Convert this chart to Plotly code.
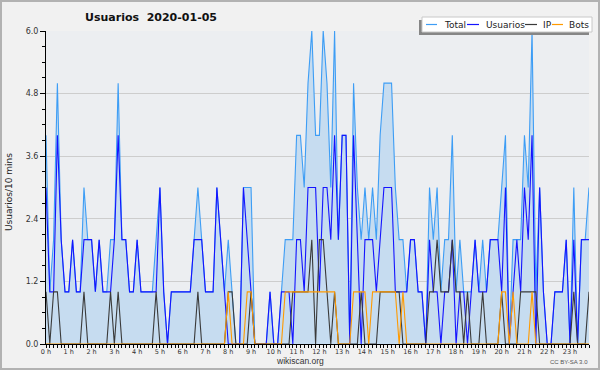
import plotly.graph_objects as go

# ---- data (10-minute slots, 2020-01-05) ----
total = [4,1,2,5,2,1,1,2,1,1,3,2,2,1,2,1,1,2,2,5,2,2,1,1,
         2,1,1,1,1,2,3,1,0,1,1,1,1,1,1,2,3,2,1,1,1,3,2,1,
         2,1,0,0,3,3,3,0,0,0,0,1,0,0,1,2,2,2,4,4,3,5,6,4,
         4,6,5,3,6,2,4,4,0,5,3,2,3,2,3,2,4,5,5,5,3,2,2,1,
         2,2,1,1,0,3,2,3,1,2,2,4,1,2,1,1,1,2,1,2,1,2,2,2,
         3,4,0,2,2,2,4,3,6,1,3,1,0,0,1,1,1,2,0,3,0,2,2,3]
usuarios = [3,1,1,4,2,1,1,2,1,1,2,2,2,1,2,1,1,1,2,4,2,2,1,1,
            2,1,1,1,1,1,3,1,0,1,1,1,1,1,1,2,2,2,1,1,1,3,2,1,
            0,0,0,0,3,2,1,0,0,0,0,1,0,0,1,1,1,0,2,2,1,3,3,3,
            1,3,3,2,4,2,4,4,0,4,2,0,2,2,2,1,2,3,3,3,1,1,1,1,
            2,2,1,1,0,2,1,1,0,1,1,2,0,1,1,0,1,2,1,1,1,2,2,2,
            1,3,0,1,2,1,3,2,4,0,3,1,0,0,1,1,1,2,0,2,0,2,2,2]
ip = [1,0,1,1,0,0,0,0,0,0,1,0,0,0,0,0,0,1,0,1,0,0,0,0,
      0,0,0,0,0,1,0,0,0,0,0,0,0,0,0,0,1,0,0,0,0,0,0,0,
      1,1,0,0,0,0,1,0,0,0,0,0,0,0,0,0,0,1,1,1,1,1,2,0,
      2,2,1,0,1,0,0,0,0,0,0,1,0,0,0,0,1,1,1,1,1,1,0,0,
      0,0,0,0,0,1,1,2,1,1,1,2,1,1,0,1,0,0,0,1,0,0,0,0,
      1,0,0,0,0,1,1,1,1,1,0,0,0,0,0,0,0,0,0,1,0,0,0,1]
bots = [0,0,0,0,0,0,0,0,0,0,0,0,0,0,0,0,0,0,0,0,0,0,0,0,
        0,0,0,0,0,0,0,0,0,0,0,0,0,0,0,0,0,0,0,0,0,0,0,0,
        1,0,0,0,0,1,1,0,0,0,0,0,0,0,0,1,1,1,1,1,1,1,1,1,
        1,1,1,1,1,0,0,0,0,1,1,1,1,0,1,1,1,1,1,1,1,0,1,0,
        0,0,0,0,0,0,0,0,0,0,0,0,0,0,0,0,0,0,0,0,0,0,0,0,
        1,1,0,1,0,0,0,0,1,0,0,0,0,0,0,0,0,0,0,0,0,0,0,0]
hours = [k / 6 for k in range(len(total))]
series_names = ["Total", "Usuarios", "IP", "Bots"]
series_colors = ["#3d9df5", "#1414ff", "#3a3a3a", "#ff9a00"]
title_text = "Usuarios  2020-01-05"
y_title = "Usuarios/10 mins"

W, H = 600, 370
L, R, T, B = 46, 11, 31, 26
PW, PH = W - L - R, H - T - B

def px(x):
    return (x - L) / PW

def py(y):
    return (H - B - y) / PH

FONT = "DejaVu Sans"
SMALL = "Liberation Sans"
fig = go.Figure()
fig.add_trace(go.Scatter(x=hours, y=total, mode="lines", name=series_names[0],
                         line=dict(color=series_colors[0], width=1.1),
                         fill="tozeroy", fillcolor="#c6dcf0"))
fig.add_trace(go.Scatter(x=hours, y=usuarios, mode="lines", name=series_names[1],
                         line=dict(color=series_colors[1], width=1.1)))
fig.add_trace(go.Scatter(x=hours, y=ip, mode="lines", name=series_names[2],
                         line=dict(color=series_colors[2], width=1.1)))
fig.add_trace(go.Scatter(x=hours, y=bots, mode="lines", name=series_names[3],
                         line=dict(color=series_colors[3], width=1.1)))

shapes = []
annotations = []
# figure frame
shapes.append(dict(type="rect", xref="paper", yref="paper",
                   x0=px(1), x1=px(599), y0=py(1), y1=py(369),
                   line=dict(color="#b2b2b2", width=2), fillcolor="rgba(0,0,0,0)", layer="above"))
# legend shadow + box
shapes.append(dict(type="rect", xref="paper", yref="paper",
                   x0=px(419), x1=px(589), y0=py(35), y1=py(20),
                   line=dict(width=0), fillcolor="#868686", layer="above"))
shapes.append(dict(type="rect", xref="paper", yref="paper",
                   x0=px(422), x1=px(592), y0=py(32), y1=py(17),
                   line=dict(color="#c8c8c8", width=1), fillcolor="#ffffff", layer="above"))
leg_pos = [(426, 437, 442), (467, 479, 484), (525, 537, 541), (552, 563, 567)]
for (a, b, t), name, col in zip(leg_pos, series_names, series_colors):
    shapes.append(dict(type="line", xref="paper", yref="paper",
                       x0=px(a), x1=px(b), y0=py(24.5), y1=py(24.5),
                       line=dict(color=col, width=1.2), layer="above"))
    annotations.append(dict(text=name, xref="paper", yref="paper", x=px(t), y=py(24.5),
                            xanchor="left", yanchor="middle", showarrow=False,
                            font=dict(family=FONT, size=9, color="#222222")))
# axis title and footer
annotations.append(dict(text=y_title, xref="paper", yref="paper", x=px(9), y=py(192),
                        textangle=-90, showarrow=False, xanchor="center", yanchor="middle",
                        font=dict(family=FONT, size=9, color="#222222")))
annotations.append(dict(text="wikiscan.org", xref="paper", yref="paper", x=px(300), y=py(361.5),
                        showarrow=False, xanchor="center", yanchor="middle",
                        font=dict(family=SMALL, size=8.5, color="#333333")))
annotations.append(dict(text="CC BY-SA 3.0", xref="paper", yref="paper", x=px(590), y=py(362),
                        showarrow=False, xanchor="right", yanchor="middle",
                        font=dict(family=SMALL, size=6, color="#555555")))

fig.update_layout(
    width=W, height=H,
    margin=dict(l=L, r=R, t=T, b=B, pad=0),
    paper_bgcolor="#f1f1f1", plot_bgcolor="#eceef1",
    showlegend=False,
    title=dict(text="<b>" + title_text + "</b>", x=151 / W, y=1 - 17 / H,
               xanchor="center", yanchor="middle",
               font=dict(family=FONT, size=11, color="#111111")),
    font=dict(family=FONT, size=8, color="#333333"),
    shapes=shapes, annotations=annotations,
    xaxis=dict(range=[0, hours[-1]], tickmode="linear", tick0=0, dtick=1, ticksuffix=" h",
               showgrid=False, zeroline=False, showline=True, linecolor="#000000", linewidth=1,
               ticks="outside", ticklen=3, tickcolor="#000000", ticklabelstandoff=-2,
               tickfont=dict(family=FONT, size=6.5, color="#333333"),
               minor=dict(dtick=1 / 6, tick0=0, ticks="outside", ticklen=3, tickcolor="#000000", showgrid=False)),
    yaxis=dict(range=[0, 6], tickmode="linear", tick0=0, dtick=1.2, tickformat=".1f",
               showgrid=True, gridcolor="#cdcdcd", gridwidth=1, zeroline=False,
               showline=True, linecolor="#000000", linewidth=1,
               ticks="outside", ticklen=5, tickcolor="#000000",
               tickfont=dict(family=FONT, size=8, color="#333333"),
               minor=dict(dtick=0.3, ticks="outside", ticklen=3, tickcolor="#000000", showgrid=False)),
)

fig.write_html("out.html", config={"displayModeBar": False},
               post_script="document.body.style.margin='0';document.body.style.overflow='hidden';")
